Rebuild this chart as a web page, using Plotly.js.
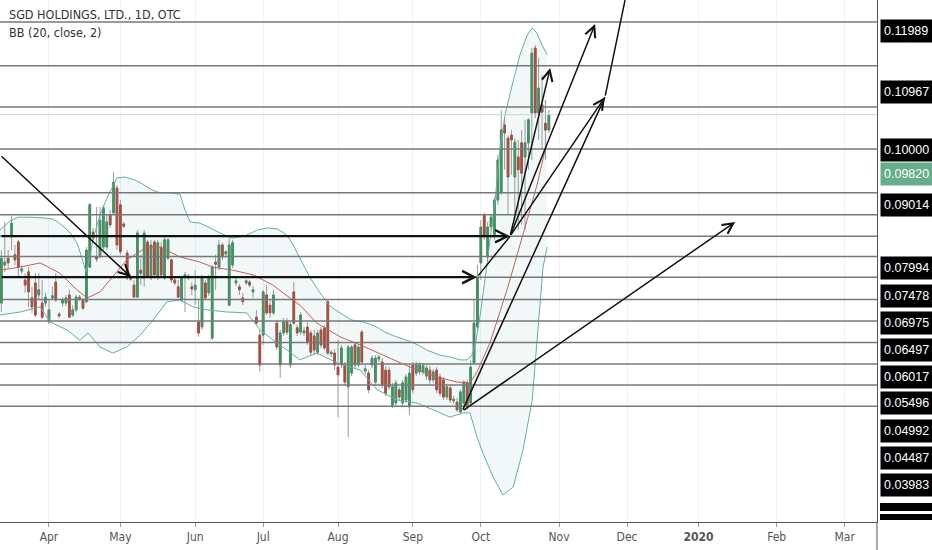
<!DOCTYPE html>
<html><head><meta charset="utf-8">
<script src="https://cdn.plot.ly/plotly-3.0.1.min.js"></script>
<style>html,body{margin:0;padding:0;background:#fff;}#chart{width:932px;height:550px;}</style>
</head><body><div id="chart"></div>
<script>
// ---- data (prices in USD, x = bar index of trading days) ----
const candleOpen = [
.0541,.0630,.0646,.0696,.0654,.0684,.0616,.0595,.0614,.0553,
.0588,.0560,.0541,.0541,.0497,.0553,.0590,.0515,.0541,.0541,
.0560,.0513,.0525,.0551,.0548,.0544,.0625,.0707,.0649,.0649,
.0672,.0672,.0747,.0752,.0810,.0771,.0726,.0658,.0602,.0583,
.0555,.0618,.0600,.0684,.0600,.0684,.0602,.0672,.0600,.0646,
.0642,.0595,.0579,.0548,.0602,.0600,.0579,.0572,.0497,.0485,
.0588,.0565,.0459,.0637,.0625,.0677,.0656,.0536,.0630,.0588,
.0579,.0553,.0588,.0590,.0567,.0508,.0466,.0466,.0560,.0536,
.0518,.0494,.0396,.0471,.0497,.0396,.0567,.0483,.0473,.0471,
.0485,.0471,.0464,.0426,.0478,.0483,.0544,.0422,.0424,.0391,
.0396,.0396,.0345,.0377,.0443,.0396,.0473,.0382,.0377,.0396,
.0356,.0410,.0403,.0384,.0384,.0302,.0307,.0338,.0307,.0314,
.0298,.0396,.0377,.0380,.0380,.0370,.0384,.0361,.0384,.0368,
.0361,.0321,.0342,.0312,.0309,.0286,.0307,.0354,.0307,.0401,
.0485,.0635,.0747,.0649,.0719,.0696,.0782,.0799,.0958,.0927,
.0934,.0836,.0883,.0916,.0883,.0916,.0986,.1138,.0986,.1005,
.0962,.0946];
const candleHigh = [
.0665,.0731,.0665,.0745,.0677,.0689,.0630,.0611,.0625,.0579,
.0611,.0611,.0595,.0565,.0548,.0579,.0611,.0520,.0555,.0560,
.0572,.0536,.0560,.0560,.0553,.0672,.0775,.0717,.0766,.0766,
.0771,.0747,.0759,.0848,.0817,.0782,.0731,.0665,.0607,.0595,
.0712,.0654,.0712,.0689,.0689,.0689,.0689,.0684,.0696,.0693,
.0646,.0604,.0595,.0604,.0614,.0609,.0590,.0618,.0548,.0607,
.0595,.0607,.0630,.0654,.0689,.0682,.0665,.0693,.0689,.0600,
.0586,.0565,.0597,.0595,.0581,.0525,.0478,.0572,.0583,.0548,
.0572,.0501,.0478,.0506,.0506,.0497,.0590,.0490,.0520,.0485,
.0497,.0478,.0478,.0478,.0485,.0490,.0548,.0431,.0433,.0455,
.0443,.0403,.0443,.0443,.0450,.0443,.0478,.0396,.0384,.0419,
.0419,.0419,.0412,.0394,.0391,.0354,.0361,.0345,.0361,.0375,
.0396,.0403,.0403,.0403,.0401,.0396,.0394,.0387,.0391,.0375,
.0368,.0352,.0349,.0323,.0319,.0338,.0361,.0361,.0408,.0548,
.0630,.0735,.0752,.0731,.0750,.0789,.0888,.0993,.0970,.0934,
.0946,.0927,.0923,.0946,.0970,.0974,.1138,.1145,.1115,.1075,
.1016,.0993];
const candleLow = [
.0520,.0614,.0623,.0665,.0630,.0602,.0609,.0565,.0532,.0518,
.0508,.0548,.0504,.0532,.0492,.0548,.0544,.0506,.0532,.0534,
.0506,.0508,.0520,.0546,.0525,.0541,.0623,.0684,.0637,.0647,
.0665,.0665,.0717,.0747,.0665,.0654,.0717,.0595,.0593,.0553,
.0553,.0583,.0579,.0600,.0595,.0600,.0595,.0600,.0595,.0642,
.0588,.0583,.0553,.0544,.0520,.0595,.0560,.0536,.0462,.0478,
.0548,.0558,.0454,.0572,.0618,.0642,.0646,.0534,.0623,.0581,
.0560,.0536,.0583,.0579,.0553,.0490,.0380,.0443,.0513,.0506,
.0513,.0431,.0366,.0464,.0466,.0389,.0490,.0464,.0466,.0464,
.0443,.0419,.0419,.0419,.0436,.0431,.0419,.0415,.0384,.0274,
.0389,.0349,.0227,.0370,.0389,.0391,.0396,.0375,.0330,.0389,
.0349,.0403,.0342,.0323,.0338,.0295,.0300,.0314,.0300,.0307,
.0279,.0330,.0370,.0373,.0373,.0361,.0352,.0354,.0330,.0323,
.0314,.0314,.0307,.0305,.0286,.0281,.0302,.0291,.0302,.0396,
.0478,.0595,.0689,.0637,.0712,.0689,.0771,.0794,.0853,.0747,
.0841,.0724,.0712,.0724,.0712,.0853,.0876,.0974,.0923,.0899,
.0876,.0939];
const candleClose = [
.0646,.0637,.0635,.0728,.0642,.0625,.0621,.0583,.0567,.0532,
.0513,.0572,.0508,.0555,.0525,.0558,.0548,.0511,.0548,.0553,
.0508,.0525,.0555,.0555,.0529,.0665,.0771,.0693,.0644,.0735,
.0764,.0731,.0724,.0824,.0677,.0661,.0721,.0600,.0597,.0555,
.0705,.0611,.0705,.0602,.0677,.0607,.0682,.0607,.0689,.0689,
.0595,.0588,.0555,.0602,.0607,.0604,.0574,.0583,.0471,.0602,
.0553,.0602,.0625,.0632,.0677,.0649,.0661,.0677,.0682,.0593,
.0572,.0544,.0593,.0583,.0572,.0494,.0396,.0567,.0518,.0518,
.0560,.0438,.0471,.0497,.0473,.0490,.0494,.0471,.0513,.0476,
.0450,.0426,.0431,.0471,.0443,.0436,.0424,.0426,.0396,.0373,
.0436,.0356,.0438,.0438,.0396,.0438,.0403,.0387,.0338,.0412,
.0412,.0415,.0349,.0330,.0345,.0345,.0354,.0321,.0354,.0368,
.0377,.0338,.0396,.0396,.0394,.0389,.0361,.0380,.0338,.0330,
.0321,.0345,.0314,.0316,.0291,.0333,.0356,.0298,.0391,.0494,
.0602,.0719,.0696,.0719,.0742,.0782,.0876,.0946,.0939,.0836,
.0923,.0918,.0853,.0845,.0916,.0970,.1126,.0986,.1044,.0988,
.0946,.0982];

// month ticks (bar index of first session of month)
const monthTickIdx = [14,35,57,77,99,121,141,164,184,205,228,248];
const monthLabels = ['Apr','May','Jun','Jul','Aug','Sep','Oct','Nov','Dec','<b>2020</b>','Feb','Mar'];

// Bollinger Bands (20, close, 2)
const bbUpperX = [-0.4,1.1,2.5,4.9,8.4,12.8,14.9,16.6,18.7,20.8,22.5,23.7,24.9,25.8,26.9,29.0,30.8,32.5,34.0,36.4,39.3,41.4,44.3,46.6,49.6,52.5,54.0,55.5,58.4,61.4,64.3,67.8,71.6,75.2,78.4,81.3,84.0,85.8,87.8,90.8,93.7,96.6,99.6,103.1,106.4,109.9,112.8,115.8,119.3,122.5,125.1,129.0,131.9,134.9,136.9,138.4,139.6,140.8,142.2,143.7,145.2,146.6,148.1,150.2,152.5,154.6,156.1,157.5,159.0,160.5];
const bbUpper = [0.0712,0.0724,0.0733,0.0742,0.0742,0.0740,0.0738,0.0731,0.0717,0.0700,0.0677,0.0646,0.0614,0.0637,0.0689,0.0747,0.0782,0.0810,0.0834,0.0836,0.0829,0.0820,0.0806,0.0799,0.0799,0.0796,0.0759,0.0731,0.0728,0.0717,0.0705,0.0693,0.0698,0.0712,0.0717,0.0714,0.0700,0.0677,0.0646,0.0600,0.0565,0.0534,0.0518,0.0501,0.0497,0.0487,0.0473,0.0463,0.0454,0.0443,0.0431,0.0419,0.0415,0.0408,0.0408,0.0419,0.0454,0.0513,0.0595,0.0689,0.0782,0.0899,0.0981,0.1051,0.1122,0.1168,0.1185,0.1173,0.1145,0.1122];
const bbMidX = [-0.4,5.5,11.4,17.2,22.2,25.2,29.0,32.8,36.9,42.8,46.6,52.5,58.4,62.2,68.1,74.0,76.9,79.9,82.8,87.8,92.8,99.6,105.5,115.2,122.2,128.1,134.0,137.8,139.9,143.7,148.7,154.6,157.5,159.9];
const bbMid = [0.0618,0.0625,0.0635,0.0611,0.0572,0.0553,0.0567,0.0602,0.0642,0.0672,0.0672,0.0649,0.0637,0.0625,0.0618,0.0607,0.0595,0.0583,0.0565,0.0536,0.0494,0.0462,0.0443,0.0408,0.0384,0.0368,0.0356,0.0354,0.0380,0.0448,0.0572,0.0735,0.0817,0.0899];
const bbLowerX = [-0.4,5.5,11.4,14.3,19.3,23.1,25.5,29.0,32.8,36.9,40.8,44.6,48.7,52.5,56.4,60.5,66.4,72.2,76.1,79.9,84.0,87.8,92.8,98.7,105.5,110.5,116.4,122.2,127.0,131.9,135.8,137.8,139.9,141.6,144.6,147.5,150.5,153.4,156.1,157.8,159.3,160.5];
const bbLower = [0.0513,0.0520,0.0532,0.0497,0.0478,0.0454,0.0471,0.0438,0.0424,0.0438,0.0466,0.0501,0.0544,0.0548,0.0532,0.0525,0.0520,0.0518,0.0478,0.0454,0.0431,0.0408,0.0424,0.0401,0.0384,0.0338,0.0314,0.0307,0.0291,0.0274,0.0284,0.0284,0.0227,0.0190,0.0134,0.0092,0.0110,0.0197,0.0314,0.0471,0.0625,0.0672];

// horizontal price levels drawn on the chart
const levelPrices = [0.11989,0.10967,0.10000,0.09014,0.07994,0.07478,0.06975,0.06497,0.06017,0.05496,0.04992,0.04487,0.03983,0.03492,0.02995];
const levelLabels = ['0.11989','0.10967','0.10000','0.09014','0.07994','0.07478','0.06975','0.06497','0.06017','0.05496','0.04992','0.04487','0.03983'];
const lastPriceLabel = '0.09820';

// user drawings: [barIdx0, price0, barIdx1, price1, arrowHead, width]
const drawings = [
  [-0.4, 0.0888, 38.1, 0.0602, 1, 1.5],
  [-0.4, 0.06017, 139.9, 0.06017, 1, 2.2],
  [-0.4, 0.06975, 149.6, 0.06975, 1, 2.2],
  [139.9, 0.06017, 149.6, 0.06975, 0, 1.5],
  [149.6, 0.06975, 161.4, 0.1091, 1, 1.5],
  [149.6, 0.06975, 174.6, 0.1194, 1, 1.5],
  [149.6, 0.06975, 177.5, 0.1023, 1, 1.5],
  [135.5, 0.0288, 177.5, 0.1023, 0, 1.5],
  [177.5, 0.1023, 183.4, 0.1250, 0, 1.5],
  [135.5, 0.0288, 215.8, 0.0731, 1, 1.5]
];

// ---- layout constants (pixels) ----
const W = 932, H = 550, ML = 0, MR = 55, MT = 0, MB = 28;
const PH = H - MT - MB;
const labelCenterPx = [31.5,91.5,149.5,205,267.5,296,322.5,350,377,403,431,457.5,485];
const lastLabelCenterPx = 174;

const idx = candleOpen.map((_, i) => i);
const bodyTop = candleOpen.map((o, i) => Math.max(o, candleClose[i]));
const bodyBot = candleOpen.map((o, i) => Math.min(o, candleClose[i]));
const GREEN = '#42905f', RED = '#b0463a', TEAL = '#5fb3a4';

const traces = [
  {type:'scatter', mode:'lines', x:bbUpperX, y:bbUpper, line:{color:TEAL, width:1}, hoverinfo:'skip', showlegend:false},
  {type:'scatter', mode:'lines', x:bbLowerX, y:bbLower, line:{color:TEAL, width:1}, fill:'tonexty', fillcolor:'rgba(95,179,164,0.09)', hoverinfo:'skip', showlegend:false},
  {type:'scatter', mode:'lines', x:bbMidX, y:bbMid, line:{color:'#c4605a', width:1}, hoverinfo:'skip', showlegend:false},
  // wicks (grey), then bodies on top
  {type:'candlestick', x:idx, open:candleOpen, high:candleHigh, low:candleLow, close:candleClose,
   increasing:{line:{color:'#9a9a9a', width:1}, fillcolor:'#9a9a9a'},
   decreasing:{line:{color:'#9a9a9a', width:1}, fillcolor:'#9a9a9a'},
   whiskerwidth:0, hoverinfo:'skip', showlegend:false},
  {type:'candlestick', x:idx, open:candleOpen, high:bodyTop, low:bodyBot, close:candleClose,
   increasing:{line:{color:GREEN, width:1}, fillcolor:GREEN},
   decreasing:{line:{color:RED, width:1}, fillcolor:RED},
   whiskerwidth:0, hoverinfo:'skip', showlegend:false}
];

const shapes = [];
levelPrices.forEach(p => shapes.push({type:'line', xref:'paper', x0:0, x1:1, yref:'y', y0:p, y1:p, line:{color:'#787878', width:1.5}, layer:'above'}));
const lastClose = candleClose[candleClose.length-1];
shapes.push({type:'line', xref:'paper', x0:0, x1:1, yref:'y', y0:lastClose, y1:lastClose, line:{color:'#cfd3d6', width:1}, layer:'above'});
shapes.push({type:'line', xref:'paper', x0:1, x1:1, yref:'paper', y0:0, y1:-MB/PH, line:{color:'#555', width:1}});
shapes.push({type:'rect', xref:'paper', x0:1+3/877, x1:1+60/877, yref:'paper', y0:1-511/PH, y1:1-503/PH, fillcolor:'#000', line:{width:0}});
shapes.push({type:'rect', xref:'paper', x0:1+3/877, x1:1+60/877, yref:'paper', y0:1-520/PH, y1:1-514/PH, fillcolor:'#000', line:{width:0}});

const annotations = [];
annotations.push({xref:'paper', yref:'paper', x:7/877, y:1-14/PH, xanchor:'left', yanchor:'middle', showarrow:false,
  text:'SGD HOLDINGS, LTD., 1D, OTC', font:{family:'Liberation Sans Narrow, DejaVu Sans Condensed, Arial', size:12.5, color:'#333'}});
annotations.push({xref:'paper', yref:'paper', x:7/877, y:1-33/PH, xanchor:'left', yanchor:'middle', showarrow:false,
  text:'BB (20, close, 2)', font:{family:'Liberation Sans Narrow, DejaVu Sans Condensed, Arial', size:12.5, color:'#333'}});
const boxCommon = {xref:'paper', yref:'paper', x:1, xshift:3, xanchor:'left', yanchor:'middle', showarrow:false,
  borderpad:3, width:54, height:16, align:'left', font:{family:'Liberation Sans, Arial', size:12.5, color:'#fff'}};
levelLabels.forEach((t, k) => annotations.push(Object.assign({}, boxCommon, {y:1-labelCenterPx[k]/PH, text:t, bgcolor:'#000'})));
annotations.push(Object.assign({}, boxCommon, {y:1-lastLabelCenterPx/PH, text:lastPriceLabel, bgcolor:'#66ad8b'}));
drawings.forEach(d => annotations.push({xref:'x', yref:'y', axref:'x', ayref:'y', x:d[2], y:d[3], ax:d[0], ay:d[1],
  text:'', showarrow:true, arrowhead:d[4] ? 5 : 0, arrowsize:d[5] > 2 ? 1.1 : 1.4, arrowwidth:d[5], arrowcolor:'#111', standoff:0, startstandoff:0}));

const layout = {
  width:W, height:H, margin:{l:ML, r:MR, t:MT, b:MB, pad:0},
  paper_bgcolor:'#fff', plot_bgcolor:'#fff', showlegend:false,
  xaxis:{range:[-0.4,257.5], tickvals:monthTickIdx, ticktext:monthLabels, showgrid:true, gridcolor:'#f0f2f5', gridwidth:1,
    zeroline:false, showline:true, linecolor:'#555', linewidth:1, ticks:'outside', ticklen:4, tickcolor:'#999',
    tickfont:{family:'Liberation Sans Narrow, DejaVu Sans Condensed, Arial', size:12, color:'#555'},
    rangeslider:{visible:false}, fixedrange:true},
  yaxis:{range:[0.00285,0.12504], side:'right', showticklabels:false, ticks:'', showgrid:false, zeroline:false,
    showline:true, linecolor:'#555', linewidth:1, fixedrange:true},
  shapes:shapes, annotations:annotations
};
Plotly.newPlot('chart', traces, layout, {staticPlot:true, displayModeBar:false});
</script></body></html>
